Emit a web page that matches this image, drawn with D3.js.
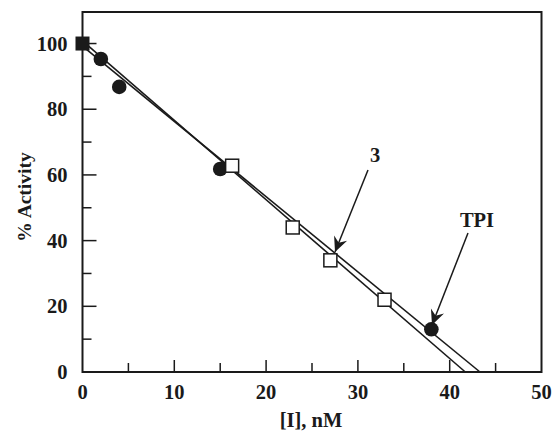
<!DOCTYPE html>
<html>
<head>
<meta charset="utf-8">
<script src="https://cdn.jsdelivr.net/npm/d3@7"></script>
<style>
  body { margin: 0; background: #fff; }
  text { font-family: "Liberation Serif", "Times New Roman", serif; font-weight: bold; fill: #1a1a1a; }
</style>
</head>
<body>
<div id="chart"></div>
<script>
// data
const tpiX = [2, 4, 15, 38];
const tpiY = [95.3, 86.8, 61.8, 13];
const cmp3X = [16.3, 22.9, 27, 32.9];
const cmp3Y = [62.8, 44, 34, 22];
const controlX = [0];
const controlY = [100];
// fitted lines, endpoints
const fit3 = [[0, 100.8], [41.7, 0]];
const fitTPI = [[0, 99.2], [43.3, 0]];
const xTicks = [0, 10, 20, 30, 40, 50];
const yTicks = [0, 20, 40, 60, 80, 100];

const width = 554, height = 433;
const margin = { left: 82.5, right: 12.5, top: 12, bottom: 61 };
const ink = "#1a1a1a";

const svg = d3.select("#chart").append("svg")
  .attr("width", width)
  .attr("height", height);

const x = d3.scaleLinear().domain([0, 50]).range([margin.left, width - margin.right]);
const y = d3.scaleLinear().domain([0, 109.6]).range([height - margin.bottom, margin.top]);

// frame
svg.append("rect")
  .attr("x", x(0)).attr("y", y(109.6))
  .attr("width", x(50) - x(0)).attr("height", y(0) - y(109.6))
  .attr("fill", "none").attr("stroke", ink).attr("stroke-width", 2);

// ticks, pointing inward
const xMinor = d3.range(5, 50, 10);
const yMinor = d3.range(10, 110, 20);

svg.append("g").selectAll("line")
  .data(xTicks.slice(1, -1).map(d => [d, 12]).concat(xMinor.map(d => [d, 9])))
  .join("line")
  .attr("x1", d => x(d[0])).attr("x2", d => x(d[0]))
  .attr("y1", y(0)).attr("y2", d => y(0) - d[1])
  .attr("stroke", ink).attr("stroke-width", 1.5);

svg.append("g").selectAll("line")
  .data(yTicks.slice(1).map(d => [d, 14]).concat(yMinor.map(d => [d, 9])))
  .join("line")
  .attr("y1", d => y(d[0])).attr("y2", d => y(d[0]))
  .attr("x1", x(0)).attr("x2", d => x(0) + d[1])
  .attr("stroke", ink).attr("stroke-width", 1.5);

// tick labels
svg.append("g").selectAll("text")
  .data(xTicks)
  .join("text")
  .attr("x", d => x(d)).attr("y", y(0) + 27)
  .attr("text-anchor", "middle")
  .attr("font-size", 20.5)
  .text(d => d);

svg.append("g").selectAll("text")
  .data(yTicks)
  .join("text")
  .attr("x", x(0) - 15).attr("y", d => y(d) + 7)
  .attr("text-anchor", "end")
  .attr("font-size", 20.5)
  .text(d => d);

// axis titles
svg.append("text")
  .attr("x", 311).attr("y", 427)
  .attr("text-anchor", "middle")
  .attr("font-size", 20.5)
  .text("[I], nM");

svg.append("text")
  .attr("transform", "translate(31,197) rotate(-90)")
  .attr("text-anchor", "middle")
  .attr("font-size", 19.5)
  .text("% Activity");

// fitted lines
const line = d3.line().x(d => x(d[0])).y(d => y(d[1]));
[fit3, fitTPI].forEach(f => {
  svg.append("path")
    .attr("d", line(f))
    .attr("fill", "none").attr("stroke", ink).attr("stroke-width", 1.6);
});

// markers
svg.append("g").selectAll("circle")
  .data(d3.zip(tpiX, tpiY))
  .join("circle")
  .attr("cx", d => x(d[0])).attr("cy", d => y(d[1]))
  .attr("r", 7.3)
  .attr("fill", ink);

const sq = 13;
svg.append("g").selectAll("rect")
  .data(d3.zip(cmp3X, cmp3Y))
  .join("rect")
  .attr("x", d => x(d[0]) - sq / 2).attr("y", d => y(d[1]) - sq / 2)
  .attr("width", sq).attr("height", sq)
  .attr("fill", "#fff").attr("stroke", ink).attr("stroke-width", 1.5);

svg.append("g").selectAll("rect")
  .data(d3.zip(controlX, controlY))
  .join("rect")
  .attr("x", d => x(d[0]) - 7).attr("y", d => y(d[1]) - 7)
  .attr("width", 14).attr("height", 14)
  .attr("fill", ink);

// annotations with arrows
function arrow(x1, y1, x2, y2) {
  const ang = Math.atan2(y2 - y1, x2 - x1) * 180 / Math.PI;
  svg.append("line")
    .attr("x1", x1).attr("y1", y1).attr("x2", x2).attr("y2", y2)
    .attr("stroke", ink).attr("stroke-width", 1.5);
  svg.append("path")
    .attr("transform", `translate(${x2},${y2}) rotate(${ang})`)
    .attr("d", "M0,0 L-15,-7 L-10,0 L-15,7 Z")
    .attr("fill", ink);
}

svg.append("text").attr("x", 375).attr("y", 162)
  .attr("text-anchor", "middle").attr("font-size", 20.5).text("3");
arrow(368, 170, 335, 252);

svg.append("text").attr("x", 477).attr("y", 227)
  .attr("text-anchor", "middle").attr("font-size", 20.5).text("TPI");
arrow(468, 233, 432, 325);
</script>
</body>
</html>
